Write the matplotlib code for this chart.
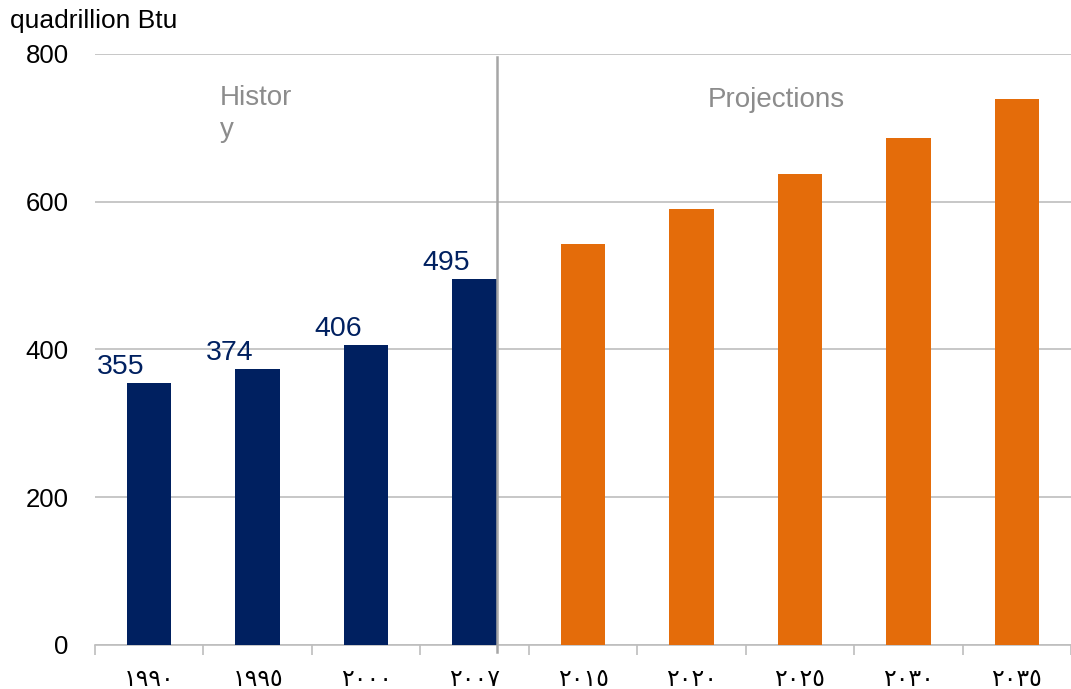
import numpy as np
import matplotlib
matplotlib.use("Agg")
import matplotlib.pyplot as plt

plt.rcParams['font.family'] = ['Liberation Sans', 'DejaVu Sans']

# data
years = ['١٩٩٠', '١٩٩٥', '٢٠٠٠', '٢٠٠٧', '٢٠١٥', '٢٠٢٠', '٢٠٢٥', '٢٠٣٠', '٢٠٣٥']
values = [355, 374, 406, 495, 543, 590, 637, 686, 739]
n_hist = 4
hist_labels = ['355', '374', '406', '495']

navy = '#002060'
orange = '#E46C0A'
grid_c = '#BEBEBE'

fig = plt.figure(figsize=(10.71, 6.89), dpi=100)
ax = fig.add_axes([95/1071, 1-645/689, 976/1071, 591/689])

x = np.arange(len(years))
colors = [navy]*n_hist + [orange]*(len(years)-n_hist)
ax.bar(x, values, width=0.41, color=colors, zorder=3)

for i, lab in enumerate(hist_labels):
    ax.text(x[i]-0.26, values[i]+4, lab, ha='center', va='bottom',
            fontsize=20.5, color=navy, zorder=4)

ax.set_xlim(-0.5, len(years)-0.5)
ax.set_ylim(0, 800)
ax.set_yticks([0, 200, 400, 600, 800])
ax.yaxis.grid(True, color=grid_c, linewidth=1.2, zorder=0)
ax.tick_params(axis='y', length=0, pad=19, labelsize=18.5)

ax.set_xticks(x)
ax.set_xticklabels(years, fontsize=17)
ax.set_xticks(np.arange(-0.5, len(years), 1), minor=True)
ax.tick_params(axis='x', which='major', length=0, pad=17)
ax.tick_params(axis='x', which='minor', length=7, width=1.2, color=grid_c)

for s in ['left', 'right', 'top']:
    ax.spines[s].set_visible(False)
ax.spines['bottom'].set_color(grid_c)
ax.spines['bottom'].set_linewidth(1.2)

# divider between history and projections
ax.plot([3.205, 3.205], [-10, 796], color='#A6A6A6', linewidth=1.8,
        zorder=4, clip_on=False)

ax.text(0.653, 758, 'Histor\ny', fontsize=20, color='#8C8C8C',
        ha='left', va='top', linespacing=1.3)
ax.text(5.78, 755, 'Projections', fontsize=20, color='#8C8C8C',
        ha='center', va='top')

fig.text(10/1071, 1-28/689, 'quadrillion Btu', fontsize=19, color='black',
         ha='left', va='baseline')

fig.savefig('out.png', dpi=100)
